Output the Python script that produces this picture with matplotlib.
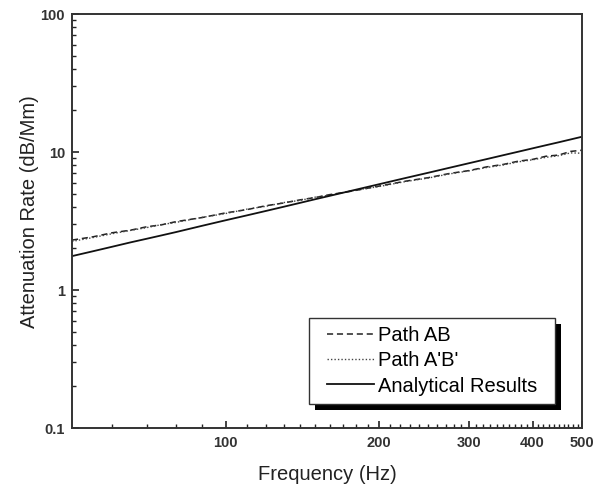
import numpy as np
import matplotlib
matplotlib.use("Agg")
import matplotlib.pyplot as plt
from matplotlib.ticker import FixedLocator, NullFormatter
from matplotlib.patches import Rectangle

plt.rcParams['font.family'] = ['Liberation Sans', 'DejaVu Sans']

# frequency points (Hz)
freq = [50, 55, 60, 65, 70, 75, 80, 90, 100, 110, 120, 130, 140, 150, 160, 175,
        200, 225, 250, 275, 300, 325, 350, 375, 400, 425, 450, 475, 500]

# measured attenuation along path AB (dB/Mm)
path_ab = [2.30, 2.43, 2.60, 2.71, 2.87, 2.97, 3.13, 3.35, 3.62, 3.82, 4.08, 4.27,
           4.50, 4.68, 4.91, 5.17, 5.66, 6.14, 6.52, 6.99, 7.33, 7.80, 8.12, 8.58,
           8.84, 9.32, 9.50, 10.10, 10.30]

# measured attenuation along path A'B'
path_apbp = [2.25, 2.40, 2.56, 2.70, 2.83, 2.98, 3.09, 3.36, 3.58, 3.85, 4.04, 4.30,
             4.46, 4.71, 4.86, 5.20, 5.62, 6.10, 6.48, 6.94, 7.30, 7.72, 8.05, 8.48,
             8.78, 9.15, 9.40, 9.85, 9.80]

# analytical prediction
analytical = [1.76, 1.91, 2.06, 2.21, 2.35, 2.49, 2.63, 2.92, 3.20, 3.47, 3.74, 4.01,
              4.28, 4.55, 4.81, 5.20, 5.84, 6.47, 7.08, 7.69, 8.29, 8.88, 9.47, 10.05,
              10.63, 11.20, 11.76, 12.33, 12.90]

W, H = 594, 487
fig = plt.figure(figsize=(W / 100, H / 100), dpi=100)
ax = fig.add_axes([72/W, 1 - 428/H, 510/W, 414/H])

ax.plot(freq, path_ab, color='#222222', lw=1.1, ls=(0, (4, 2.5)), label='Path AB')
ax.plot(freq, path_apbp, color='#444444', lw=1.0, ls=(0, (1, 1.5)), label="Path A'B'")
ax.plot(freq, analytical, color='#111111', lw=1.3, ls='-', label='Analytical Results')

ax.set_xscale('log')
ax.set_yscale('log')
ax.set_xlim(50, 500)
ax.set_ylim(0.1, 100)

ax.xaxis.set_major_locator(FixedLocator([100, 200, 300, 400, 500]))
ax.set_xticklabels(['100', '200', '300', '400', '500'])
minor_x = [f for f in range(60, 500, 10) if f not in (100, 200, 300, 400)]
ax.xaxis.set_minor_locator(FixedLocator(minor_x))
ax.xaxis.set_minor_formatter(NullFormatter())

ax.yaxis.set_major_locator(FixedLocator([0.1, 1, 10, 100]))
ax.set_yticklabels(['0.1', '1', '10', '100'])
minor_y = [m * 10.0**e for e in (-1, 0, 1) for m in range(2, 10)]
ax.yaxis.set_minor_locator(FixedLocator(minor_y))
ax.yaxis.set_minor_formatter(NullFormatter())

ax.tick_params(which='both', direction='in', top=False, right=False,
               colors='#222222', labelsize=10.5)
ax.tick_params(which='major', length=5, width=1.2)
ax.tick_params(which='minor', length=3, width=1.0)
for lbl in ax.get_xticklabels() + ax.get_yticklabels():
    lbl.set_fontweight('bold')
    lbl.set_color('#333333')
ax.tick_params(axis='x', pad=6)
ax.tick_params(axis='y', pad=5)

for sp in ax.spines.values():
    sp.set_linewidth(1.4)
    sp.set_color('#333333')

ax.set_xlabel('Frequency (Hz)', fontsize=14.5, color='#222222')
ax.set_ylabel('Attenuation Rate (dB/Mm)', fontsize=14.5, color='#222222')
ax.xaxis.set_label_coords((327 - 72) / 510, (428 - 465) / 414)
ax.yaxis.set_label_coords((39 - 72) / 510, (428 - 212) / 414)

# legend box with a black drop shadow (pixel positions)
def px_box(x0, y0, x1, y1):
    return ((x0 - 72) / 510, (428 - y1) / 414), (x1 - x0) / 510, (y1 - y0) / 414

xy, bw, bh = px_box(315, 324, 561, 410)
ax.add_patch(Rectangle(xy, bw, bh, transform=ax.transAxes, facecolor='black',
                       edgecolor='none', zorder=4, clip_on=False))
xy, bw, bh = px_box(309, 318, 555, 404)
ax.add_patch(Rectangle(xy, bw, bh, transform=ax.transAxes, facecolor='white',
                       edgecolor='#333333', lw=1.0, zorder=4.5, clip_on=False))

leg = ax.legend(loc='center', bbox_to_anchor=((432 - 72) / 510, (428 - 361) / 414),
                fontsize=14.5, frameon=False, handlelength=2.3, handletextpad=0.2,
                borderpad=0, labelspacing=0.3, borderaxespad=0)
leg.set_zorder(5)

fig.savefig('out.png', dpi=100)
